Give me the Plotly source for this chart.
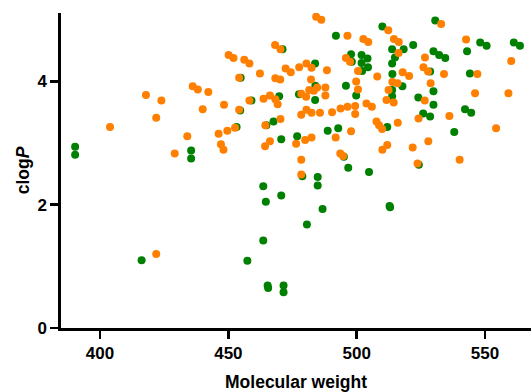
import plotly.graph_objects as go

# Molecular weight / clogP values
orange_mw = [450.1, 452.0, 456.2, 458.2, 462.3, 454.2, 436.1, 438.1, 442.2, 417.9,
             423.9, 458.2, 463.7, 466.2, 468.3, 469.2, 440.0, 448.3, 454.2, 421.9,
             403.9, 452.6, 449.6, 464.4, 446.2, 434.0, 447.1, 448.1, 464.3, 466.2,
             429.1, 421.9, 484.2, 486.2, 496.4, 502.6, 504.5, 512.3, 532.9, 468.2,
             470.3, 514.5, 516.4, 516.3, 526.6, 542.6, 560.2, 495.8, 497.4, 472.3,
             474.3, 477.6, 480.4, 482.4, 488.4, 500.5, 468.3, 470.2, 482.2, 499.8,
             508.0, 517.9, 520.4, 526.0, 527.8, 534.0, 547.0, 513.9, 515.9, 528.8,
             512.4, 500.5, 487.8, 478.4, 480.3, 481.5, 483.3, 484.6, 487.8, 511.6,
             514.4, 526.5, 546.1, 559.1, 478.4, 480.4, 482.4, 485.7, 490.4, 493.7,
             496.4, 499.4, 499.4, 503.8, 505.9, 470.3, 507.7, 508.7, 509.9, 516.0,
             524.1, 536.1, 554.3, 497.8, 491.8, 479.9, 482.4, 476.4, 511.9, 510.0,
             521.8, 527.9, 493.6, 494.7, 478.4, 523.7, 540.1, 478.4]
orange_clogp = [4.43, 4.38, 4.35, 4.29, 4.13, 4.06, 3.92, 3.87, 3.83, 3.78,
                3.69, 3.69, 3.72, 3.77, 3.71, 3.63, 3.55, 3.62, 3.54, 3.41,
                3.26, 3.25, 3.20, 3.29, 3.15, 3.11, 2.98, 2.89, 2.95, 3.03,
                2.83, 1.20, 5.05, 5.00, 4.74, 4.69, 4.64, 4.83, 4.93, 4.59,
                4.52, 4.69, 4.64, 4.46, 4.39, 4.68, 4.33, 4.38, 4.32, 4.21,
                4.15, 4.23, 4.29, 4.22, 4.18, 4.17, 4.05, 4.03, 4.03, 4.00,
                4.08, 4.15, 4.09, 4.23, 4.16, 4.12, 4.12, 3.99, 3.97, 3.97,
                3.86, 3.87, 3.90, 3.80, 3.75, 3.86, 3.85, 3.90, 3.77, 3.70,
                3.66, 3.69, 3.81, 3.81, 3.46, 3.54, 3.49, 3.49, 3.50, 3.56,
                3.59, 3.60, 3.47, 3.64, 3.59, 3.39, 3.35, 3.29, 3.23, 3.33,
                3.40, 3.44, 3.24, 3.19, 3.09, 3.05, 3.09, 2.99, 2.97, 2.89,
                2.93, 3.03, 2.83, 2.79, 2.73, 2.67, 2.73, 2.49]

green_mw = [390.3, 390.3, 435.5, 435.5, 463.6, 416.2, 457.4, 463.6, 464.6, 465.3,
            465.5, 471.5, 471.5, 470.6, 486.7, 480.6, 513.0, 512.8, 496.7, 504.8,
            484.8, 484.8, 467.6, 470.6, 476.8, 488.7, 492.8, 478.8, 538.0, 511.9,
            525.9, 528.6, 542.2, 544.6, 524.0, 529.9, 529.9, 513.8, 513.8, 517.8,
            513.9, 528.6, 544.1, 513.8, 514.9, 513.8, 518.3, 522.0, 529.9, 532.1,
            534.5, 543.0, 548.1, 550.6, 561.2, 563.6, 530.6, 510.0, 491.9, 497.8,
            501.9, 504.2, 498.1, 501.9, 504.4, 502.1, 483.8, 471.1, 495.8, 483.9,
            483.8, 477.5, 469.8, 499.8, 459.0, 454.8, 454.6, 453.2, 464.8, 524.2,
            495.0]
green_clogp = [2.94, 2.81, 2.88, 2.75, 2.30, 1.10, 1.09, 1.42, 2.05, 0.69,
               0.65, 0.69, 0.58, 2.15, 1.93, 1.68, 1.96, 1.98, 2.60, 2.53,
               2.45, 2.31, 3.35, 3.06, 3.11, 3.20, 3.24, 2.46, 3.18, 3.26,
               3.48, 3.43, 3.55, 3.49, 3.74, 3.84, 3.62, 3.86, 3.76, 3.92,
               4.12, 4.16, 4.13, 4.29, 4.39, 4.52, 4.52, 4.59, 4.49, 4.43,
               4.38, 4.49, 4.63, 4.58, 4.63, 4.58, 4.99, 4.89, 4.74, 4.44,
               4.43, 4.37, 4.32, 4.30, 4.23, 4.17, 4.29, 4.52, 3.93, 3.93,
               3.70, 3.79, 3.76, 3.77, 3.69, 4.06, 3.53, 3.26, 3.29, 2.65,
               2.78]

x_ticks = [400, 450, 500, 550]
y_ticks = [0, 2, 4]

FONT = "Liberation Sans, Arial, sans-serif"

fig = go.Figure()
fig.add_trace(go.Scatter(x=green_mw, y=green_clogp, mode="markers",
                         marker=dict(color="#008000", size=8, line=dict(width=0)),
                         showlegend=False, hoverinfo="skip"))
fig.add_trace(go.Scatter(x=orange_mw, y=orange_clogp, mode="markers",
                         marker=dict(color="#FF8000", size=8, line=dict(width=0)),
                         showlegend=False, hoverinfo="skip"))

axis_common = dict(showgrid=False, zeroline=False, showline=True, linecolor="black",
                   linewidth=2.7, ticks="outside", ticklen=8, tickwidth=2.7,
                   tickcolor="black", automargin=False,
                   tickfont=dict(family=FONT, size=17, color="black", weight="bold"))

fig.update_layout(
    width=531, height=392,
    margin=dict(l=61, r=0, t=13, b=64),
    paper_bgcolor="white", plot_bgcolor="white",
    xaxis=dict(range=[384.8, 567.9], tickvals=x_ticks,
               title=dict(text="Molecular weight", standoff=15,
                          font=dict(family=FONT, size=17.5, color="black", weight="bold")),
               **axis_common),
    yaxis=dict(range=[0, 5.11], tickvals=y_ticks,
               title=dict(text="clog<i>P</i>", standoff=4,
                          font=dict(family=FONT, size=17.5, color="black", weight="bold")),
               **axis_common),
)

fig.write_html("out.html", config={"displayModeBar": False, "staticPlot": True},
               post_script="document.body.style.margin='0';document.body.style.overflow='hidden';")
